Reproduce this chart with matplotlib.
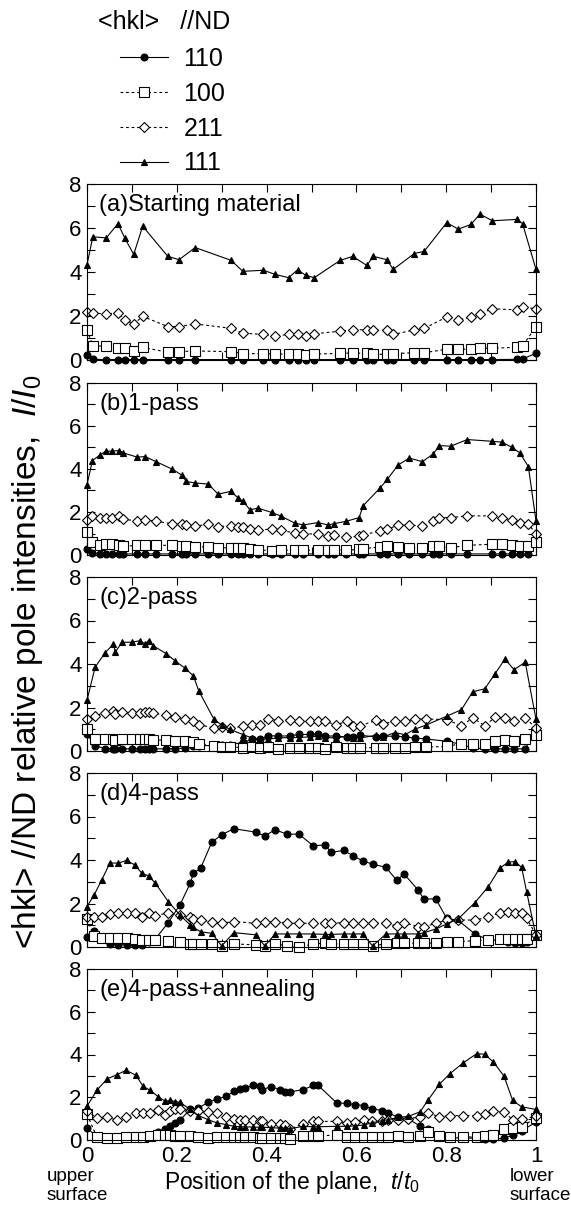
import matplotlib
matplotlib.use('Agg')
import matplotlib.pyplot as plt
from matplotlib.ticker import MultipleLocator, FuncFormatter

plt.rcParams['font.family'] = ['Liberation Sans', 'DejaVu Sans']
plt.rcParams['mathtext.fontset'] = 'custom'
plt.rcParams['mathtext.rm'] = 'Liberation Sans'
plt.rcParams['mathtext.it'] = 'Liberation Sans:italic'

# (a) starting material
x_a = [0, 0.013, 0.043, 0.069, 0.084, 0.104, 0.124, 0.18, 0.205, 0.241,
       0.321, 0.347, 0.393, 0.419, 0.449, 0.469, 0.487, 0.506, 0.564, 0.592,
       0.623, 0.638, 0.668, 0.682, 0.729, 0.751, 0.801, 0.827, 0.855, 0.875,
       0.903, 0.957, 0.97, 1.0]
a110 = [0.24, 0.03, 0.02, 0.02, 0.02, 0.02, 0.02, 0.02, 0.02, 0.02,
        0.02, 0.02, 0.02, 0.02, 0.02, 0.02, 0.02, 0.02, 0.02, 0.02,
        0.02, 0.02, 0.02, 0.02, 0.02, 0.02, 0.02, 0.02, 0.02, 0.02,
        0.02, 0.03, 0.05, 0.3]
a100 = [1.37, 0.65, 0.62, 0.55, 0.55, 0.43, 0.58, 0.35, 0.38, 0.41,
        0.38, 0.29, 0.29, 0.27, 0.27, 0.27, 0.24, 0.27, 0.3, 0.32,
        0.3, 0.26, 0.26, 0.29, 0.33, 0.33, 0.49, 0.49, 0.49, 0.53,
        0.53, 0.58, 0.64, 1.52]
a211 = [2.17, 2.13, 2.1, 2.13, 1.84, 1.64, 1.98, 1.52, 1.52, 1.64,
        1.44, 1.22, 1.16, 1.1, 1.16, 1.19, 1.11, 1.19, 1.31, 1.37,
        1.38, 1.35, 1.35, 1.16, 1.37, 1.44, 1.95, 1.83, 1.95, 2.1,
        2.33, 2.28, 2.4, 2.33]
a111 = [4.33, 5.6, 5.55, 6.2, 5.55, 4.8, 6.08, 4.71, 4.56, 5.11,
        4.53, 4.03, 4.08, 3.89, 3.74, 4.1, 3.85, 3.74, 4.53, 4.71,
        4.3, 4.71, 4.56, 4.12, 4.84, 4.94, 6.24, 5.95, 6.16, 6.63,
        6.33, 6.39, 6.2, 4.12]

# (b) 1-pass
x_b = [0, 0.012, 0.03, 0.042, 0.056, 0.072, 0.081, 0.112, 0.129, 0.154,
       0.189, 0.211, 0.221, 0.24, 0.27, 0.292, 0.32, 0.337, 0.348, 0.363,
       0.381, 0.411, 0.431, 0.463, 0.482, 0.515, 0.537, 0.55, 0.576, 0.606,
       0.615, 0.652, 0.669, 0.693, 0.718, 0.747, 0.771, 0.785, 0.81, 0.847,
       0.901, 0.924, 0.946, 0.964, 0.983, 1.0]
b110 = [0.3, 0.11, 0.06, 0.05, 0.05, 0.05, 0.05, 0.05, 0.05, 0.05,
        0.05, 0.05, 0.05, 0.05, 0.05, 0.05, 0.05, 0.05, 0.05, 0.05,
        0.05, 0.05, 0.05, 0.05, 0.05, 0.05, 0.05, 0.05, 0.05, 0.05,
        0.05, 0.05, 0.05, 0.05, 0.05, 0.05, 0.05, 0.05, 0.05, 0.05,
        0.05, 0.05, 0.05, 0.05, 0.05, 0.65]
b100 = [1.09, 0.61, 0.48, 0.5, 0.53, 0.45, 0.4, 0.45, 0.45, 0.45,
        0.45, 0.42, 0.4, 0.37, 0.39, 0.33, 0.34, 0.34, 0.31, 0.3,
        0.25, 0.19, 0.22, 0.23, 0.22, 0.23, 0.25, 0.25, 0.22, 0.26,
        0.3, 0.37, 0.4, 0.39, 0.34, 0.31, 0.4, 0.4, 0.34, 0.45,
        0.5, 0.53, 0.45, 0.42, 0.42, 0.6]
b211 = [1.62, 1.82, 1.74, 1.74, 1.74, 1.82, 1.66, 1.59, 1.65, 1.56,
        1.46, 1.46, 1.39, 1.34, 1.43, 1.31, 1.37, 1.32, 1.31, 1.2,
        1.17, 1.2, 1.17, 1.01, 1.0, 0.96, 0.9, 0.92, 0.84, 0.87,
        0.93, 1.12, 1.2, 1.39, 1.39, 1.35, 1.59, 1.74, 1.74, 1.82,
        1.82, 1.74, 1.62, 1.51, 1.43, 1.0]
b111 = [3.27, 4.39, 4.67, 4.83, 4.83, 4.86, 4.75, 4.55, 4.58, 4.34,
        4.0, 3.72, 3.42, 3.35, 3.3, 2.83, 2.96, 2.65, 2.49, 2.1,
        2.18, 1.98, 1.82, 1.48, 1.4, 1.51, 1.39, 1.46, 1.56, 1.74,
        2.29, 3.1, 3.52, 4.19, 4.51, 4.34, 4.7, 5.09, 5.06, 5.37,
        5.29, 5.25, 5.01, 4.75, 4.11, 1.59]

# (c) 2-pass
x_c = [0, 0.018, 0.04, 0.059, 0.063, 0.078, 0.1, 0.117, 0.13, 0.137,
       0.148, 0.177, 0.197, 0.219, 0.237, 0.249, 0.283, 0.3, 0.319, 0.348,
       0.367, 0.386, 0.404, 0.426, 0.452, 0.473, 0.497, 0.515, 0.53, 0.555,
       0.578, 0.592, 0.608, 0.644, 0.66, 0.686, 0.708, 0.73, 0.756, 0.801,
       0.834, 0.859, 0.886, 0.909, 0.931, 0.951, 0.976, 1.0]
c110 = [0.76, 0.25, 0.11, 0.1, 0.1, 0.1, 0.1, 0.1, 0.1, 0.1,
        0.1, 0.1, 0.11, 0.14, 0.21, 0.25, 0.25, 0.29, 0.29, 0.4,
        0.53, 0.55, 0.71, 0.68, 0.7, 0.76, 0.76, 0.78, 0.7, 0.68,
        0.65, 0.65, 0.72, 0.65, 0.68, 0.68, 0.65, 0.6, 0.55, 0.45,
        0.3, 0.14, 0.1, 0.1, 0.1, 0.1, 0.1, 0.95]
c100 = [1.02, 0.53, 0.55, 0.55, 0.5, 0.53, 0.53, 0.53, 0.55, 0.53,
        0.5, 0.5, 0.45, 0.45, 0.4, 0.34, 0.21, 0.18, 0.18, 0.16,
        0.18, 0.16, 0.18, 0.11, 0.14, 0.14, 0.14, 0.14, 0.11, 0.18,
        0.14, 0.14, 0.14, 0.16, 0.16, 0.16, 0.16, 0.18, 0.18, 0.21,
        0.34, 0.34, 0.34, 0.47, 0.5, 0.47, 0.55, 0.74]
c211 = [1.49, 1.63, 1.75, 1.83, 1.72, 1.78, 1.75, 1.74, 1.78, 1.8,
        1.74, 1.65, 1.55, 1.49, 1.4, 1.21, 1.06, 1.09, 1.06, 1.13,
        1.21, 1.21, 1.47, 1.4, 1.44, 1.36, 1.36, 1.36, 1.36, 1.21,
        1.36, 1.16, 1.16, 1.41, 1.26, 1.36, 1.36, 1.47, 1.47, 1.44,
        1.16, 1.52, 1.16, 1.55, 1.52, 1.36, 1.52, 1.06]
c111 = [2.33, 3.85, 4.51, 4.92, 4.55, 5.0, 5.0, 5.07, 4.92, 5.08,
        4.83, 4.47, 4.13, 3.8, 3.45, 2.76, 1.45, 1.2, 0.99, 0.75,
        0.6, 0.55, 0.55, 0.6, 0.62, 0.62, 0.65, 0.68, 0.62, 0.6,
        0.68, 0.6, 0.6, 0.72, 0.65, 0.85, 0.75, 1.0, 1.2, 1.6,
        1.9, 2.72, 2.86, 3.56, 4.23, 3.74, 4.08, 1.46]

# (d) 4-pass
x_d = [0, 0.016, 0.033, 0.051, 0.07, 0.088, 0.107, 0.122, 0.137, 0.152,
       0.181, 0.207, 0.23, 0.237, 0.253, 0.278, 0.3, 0.327, 0.376, 0.396,
       0.419, 0.445, 0.472, 0.504, 0.531, 0.543, 0.572, 0.593, 0.614, 0.636,
       0.666, 0.69, 0.706, 0.737, 0.75, 0.777, 0.801, 0.827, 0.864, 0.894,
       0.919, 0.938, 0.953, 0.968, 0.979, 1.0]
d110 = [0.48, 0.75, 0.4, 0.14, 0.1, 0.1, 0.1, 0.1, 0.25, 0.37,
        1.12, 1.94, 2.93, 3.39, 3.62, 4.82, 5.16, 5.44, 5.28, 5.11,
        5.39, 5.19, 5.19, 4.65, 4.7, 4.35, 4.44, 4.19, 3.96, 3.81,
        3.66, 3.06, 3.36, 2.63, 2.21, 2.21, 1.32, 1.22, 0.6, 0.33,
        0.3, 0.25, 0.18, 0.2, 0.25, 0.5]
d100 = [1.3, 0.5, 0.4, 0.4, 0.4, 0.4, 0.35, 0.32, 0.32, 0.32,
        0.29, 0.21, 0.14, 0.14, 0.14, 0.14, 0.06, 0.14, 0.1, 0.06,
        0.14, 0.06, 0.0, 0.14, 0.18, 0.14, 0.14, 0.14, 0.14, 0.06,
        0.14, 0.18, 0.18, 0.18, 0.18, 0.18, 0.21, 0.25, 0.29, 0.32,
        0.35, 0.35, 0.35, 0.35, 0.35, 0.56]
d211 = [1.4, 1.37, 1.37, 1.52, 1.55, 1.55, 1.55, 1.37, 1.55, 1.43,
        1.58, 1.47, 1.37, 1.3, 1.24, 1.17, 1.09, 1.17, 1.09, 1.17,
        1.17, 1.09, 1.09, 1.09, 1.12, 1.09, 1.12, 1.12, 1.09, 1.09,
        1.09, 0.97, 1.12, 0.94, 0.92, 1.09, 1.24, 1.24, 1.24, 1.37,
        1.58, 1.63, 1.58, 1.55, 1.32, 0.56]
d111 = [1.86, 2.4, 3.09, 3.86, 3.86, 3.98, 3.77, 3.39, 3.27, 2.94,
        2.09, 1.47, 1.01, 0.9, 0.7, 0.63, 0.05, 0.66, 0.56, 0.05,
        0.6, 0.6, 0.6, 0.6, 0.58, 0.58, 0.6, 0.6, 0.6, 0.05,
        0.6, 0.6, 0.6, 0.6, 0.65, 0.83, 1.06, 1.3, 2.04, 2.78,
        3.62, 3.9, 3.93, 3.66, 2.55, 0.5]

# (e) 4-pass + annealing
x_e = [0, 0.022, 0.045, 0.066, 0.087, 0.109, 0.125, 0.14, 0.159, 0.174,
       0.185, 0.196, 0.207, 0.23, 0.248, 0.27, 0.289, 0.31, 0.327, 0.341,
       0.352, 0.369, 0.385, 0.389, 0.409, 0.43, 0.441, 0.452, 0.482, 0.504,
       0.515, 0.556, 0.578, 0.597, 0.616, 0.634, 0.656, 0.671, 0.693, 0.716,
       0.742, 0.76, 0.785, 0.808, 0.838, 0.868, 0.886, 0.905, 0.929, 0.948,
       0.968, 1.0]
e110 = [0.54, 0.18, 0.1, 0.1, 0.1, 0.12, 0.15, 0.2, 0.38, 0.5,
        0.65, 0.8, 0.93, 1.43, 1.5, 1.76, 1.92, 2.04, 2.28, 2.39,
        2.43, 2.55, 2.51, 2.33, 2.5, 2.36, 2.23, 2.25, 2.36, 2.55,
        2.55, 1.74, 1.71, 1.66, 1.61, 1.47, 1.38, 1.27, 1.06, 0.98,
        0.65, 0.51, 0.2, 0.1, 0.1, 0.08, 0.06, 0.04, 0.08, 0.23,
        0.44, 0.83]
e100 = [1.2, 0.14, 0.08, 0.1, 0.14, 0.14, 0.14, 0.18, 0.24, 0.24,
        0.24, 0.2, 0.18, 0.18, 0.14, 0.1, 0.14, 0.14, 0.14, 0.14,
        0.14, 0.12, 0.1, 0.1, 0.1, 0.1, 0.08, 0.04, 0.18, 0.18,
        0.18, 0.24, 0.14, 0.14, 0.14, 0.14, 0.14, 0.14, 0.18, 0.14,
        0.18, 0.38, 0.18, 0.14, 0.14, 0.14, 0.18, 0.24, 0.5, 0.58,
        0.62, 1.04]
e211 = [1.35, 1.04, 1.08, 0.93, 1.08, 1.27, 1.27, 1.24, 1.39, 1.19,
        1.35, 1.43, 1.46, 1.35, 1.35, 1.3, 1.27, 1.08, 0.98, 0.95,
        0.93, 0.95, 0.9, 0.87, 0.76, 0.76, 0.7, 0.51, 0.76, 0.87,
        0.87, 0.87, 0.8, 0.85, 0.95, 0.87, 0.9, 0.92, 0.95, 1.0,
        1.08, 1.27, 1.08, 1.14, 1.14, 1.14, 1.2, 1.35, 1.3, 0.95,
        0.98, 1.11]
e111 = [1.58, 2.33, 2.86, 3.05, 3.26, 3.03, 2.51, 2.33, 2.02, 1.81,
        1.85, 1.8, 1.76, 1.43, 1.14, 0.95, 0.8, 0.72, 0.64, 0.62,
        0.62, 0.6, 0.6, 0.6, 0.58, 0.55, 0.55, 0.53, 0.64, 0.62,
        0.62, 0.64, 0.64, 0.66, 0.7, 0.8, 0.9, 0.95, 1.06, 1.11,
        1.32, 1.88, 2.61, 3.1, 3.61, 4.04, 4.01, 3.65, 2.98, 1.85,
        1.55, 1.43]

planes = ['110', '100', '211', '111']
panel_labels = ['(a)Starting material', '(b)1-pass', '(c)2-pass',
                '(d)4-pass', '(e)4-pass+annealing']
panel_data = [
    (x_a, [a110, a100, a211, a111]),
    (x_b, [b110, b100, b211, b111]),
    (x_c, [c110, c100, c211, c111]),
    (x_d, [d110, d100, d211, d111]),
    (x_e, [e110, e100, e211, e111]),
]

dots = (0, (2.5, 2.5))
styles = {
    '110': dict(ls='-', marker='o', mfc='k', ms=5),
    '100': dict(ls=dots, marker='s', mfc='white', ms=6.5),
    '211': dict(ls=dots, marker='D', mfc='white', ms=5),
    '111': dict(ls='-', marker='^', mfc='k', ms=5),
}

W, H = 571, 1212
fig = plt.figure(figsize=(W / 100, H / 100), dpi=100)

left, right = 87, 536
tops = [184, 383, 577, 773, 969]
bottoms = [360, 555, 751, 947, 1140]

handles = []
for i, (xs, series) in enumerate(panel_data):
    ax = fig.add_axes([left / W, 1 - bottoms[i] / H,
                       (right - left) / W, (bottoms[i] - tops[i]) / H])
    for name, ys in zip(planes, series):
        ln, = ax.plot(xs, ys, color='k', lw=0.8, mec='k', mew=0.8,
                      clip_on=False, **styles[name])
        if i == 0:
            handles.append(ln)
    ax.set_xlim(0, 1)
    ax.set_ylim(0, 8)
    ax.xaxis.set_major_locator(MultipleLocator(0.2))
    ax.xaxis.set_minor_locator(MultipleLocator(0.1))
    ax.yaxis.set_major_locator(MultipleLocator(2))
    ax.yaxis.set_minor_locator(MultipleLocator(1))
    ax.xaxis.set_major_formatter(FuncFormatter(lambda v, p: '%g' % v))
    ax.tick_params(which='both', direction='in', top=True, right=True,
                   length=6, width=0.8, labelsize=16, pad=4)
    if i < 4:
        ax.tick_params(labelbottom=False)
    for s in ax.spines.values():
        s.set_linewidth(0.8)
    ax.text(0.027, 0.88, panel_labels[i], transform=ax.transAxes,
            fontsize=17, va='center', ha='left')

# legend, title drawn separately so the rows can sit lower
fig.text(98 / W, 1 - 22 / H, '<hkl>   //ND', ha='left', va='center',
         fontsize=18)
fig.legend(handles, planes, loc='upper left',
           bbox_to_anchor=(120 / W, 1 - 47 / H), frameon=False, fontsize=18,
           handlelength=1.9, handletextpad=0.64, labelspacing=0.43,
           borderpad=0, borderaxespad=0)

fig.text(28 / W, 1 - 662 / H,
         '<hkl> //ND relative pole intensities,  $I/I_0$',
         rotation=90, ha='center', va='center', fontsize=24)
fig.text(292 / W, 1 - 1182 / H, 'Position of the plane,  $t/t_0$',
         ha='center', va='center', fontsize=16.5)
fig.text(47 / W, 1 - 1186 / H, 'upper\nsurface', ha='left', va='center',
         fontsize=13.5, linespacing=1.2)
fig.text(510 / W, 1 - 1186 / H, 'lower\nsurface', ha='left', va='center',
         fontsize=13.5, linespacing=1.2)

fig.savefig('out.png', dpi=100)
